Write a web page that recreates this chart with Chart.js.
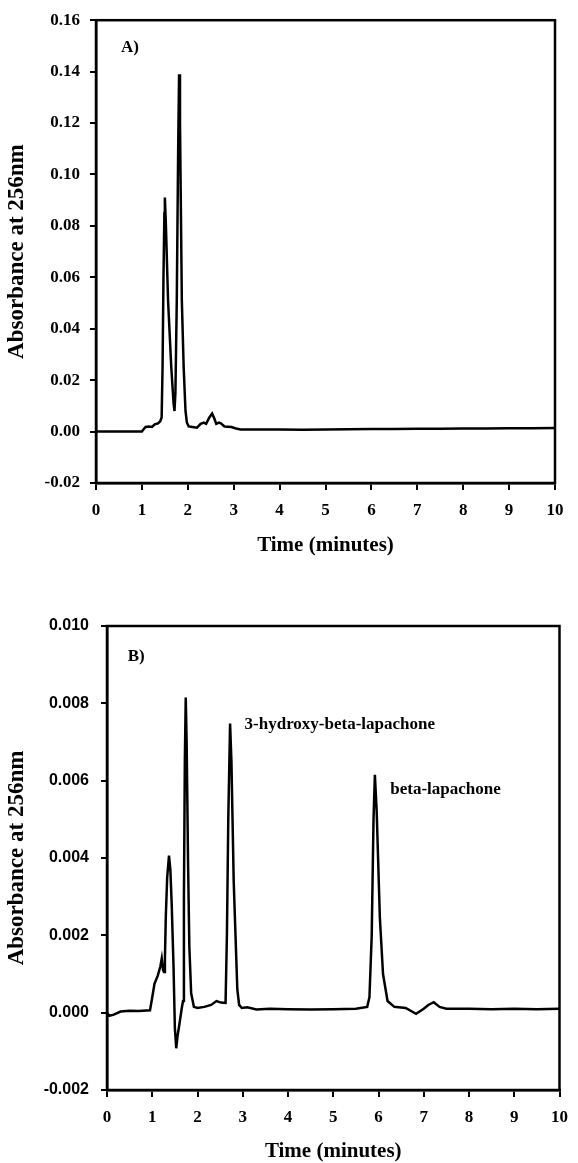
<!DOCTYPE html>
<html>
<head>
<meta charset="utf-8">
<script src="https://cdn.jsdelivr.net/npm/chart.js@4"></script>
<style>
  html, body { margin: 0; padding: 0; background: #fff; }
  .panel { position: absolute; left: 0; width: 578px; }
  #panelA { top: 0; height: 560px; }
  #panelB { top: 560px; height: 603px; }
  canvas { display: block; }
</style>
</head>
<body>
<div class="panel" id="panelA"><canvas id="chartA" width="578" height="560"></canvas></div>
<div class="panel" id="panelB"><canvas id="chartB" width="578" height="603"></canvas></div>
<script>
// PANEL A DATA (time in minutes, absorbance at 256nm)
const timeA = [0, 0.5, 1.0, 1.02, 1.08, 1.15, 1.22, 1.28, 1.35, 1.40, 1.43, 1.45, 1.47, 1.49, 1.50, 1.52,
  1.57, 1.64, 1.69, 1.71, 1.73, 1.76, 1.79, 1.81, 1.83, 1.87, 1.91, 1.95, 1.98, 2.02, 2.10, 2.20, 2.28,
  2.35, 2.40, 2.47, 2.53, 2.58, 2.62, 2.68, 2.72, 2.80, 2.95, 3.05, 3.15, 3.5, 4.0, 4.5, 5.0,
  5.5, 6.0, 6.5, 7.0, 7.5, 8.0, 8.5, 9.0, 9.5, 10.0];
const absA = [0, 0, 0, 0.0005, 0.0018, 0.0020, 0.0018, 0.0028, 0.0032, 0.0040, 0.0055, 0.025, 0.060, 0.085, 0.091, 0.082,
  0.051, 0.025, 0.011, 0.008, 0.015, 0.051, 0.110, 0.139, 0.120, 0.051, 0.025, 0.008, 0.0035, 0.0020, 0.0018, 0.0015, 0.0030,
  0.0035, 0.0030, 0.0055, 0.0070, 0.0050, 0.0030, 0.0035, 0.0032, 0.0020, 0.0018, 0.0012, 0.0008, 0.0008, 0.0008, 0.0007, 0.0008,
  0.0009, 0.0010, 0.0010, 0.0011, 0.0011, 0.0012, 0.0012, 0.0013, 0.0013, 0.0014];

// PANEL B DATA
const timeB = [0, 0.05, 0.15, 0.3, 0.5, 0.7, 0.95, 1.00, 1.05, 1.12, 1.18, 1.21, 1.24, 1.26, 1.28, 1.30,
  1.33, 1.37, 1.40, 1.43, 1.47, 1.50, 1.53, 1.56, 1.60, 1.65, 1.68, 1.70, 1.72, 1.74, 1.76, 1.79,
  1.82, 1.86, 1.92, 2.0, 2.15, 2.3, 2.42, 2.52, 2.62, 2.65, 2.68, 2.72, 2.75, 2.80, 2.84, 2.88, 2.92,
  2.98, 3.1, 3.3, 3.6, 4.0, 4.5, 5.0, 5.5, 5.75, 5.80, 5.85, 5.89, 5.92, 5.96, 6.03, 6.10, 6.20,
  6.35, 6.6, 6.83, 7.0, 7.1, 7.22, 7.35, 7.5, 8.0, 8.5, 9.0, 9.5, 10.0];
const absB = [0, -0.00008, -0.00005, 0.00003, 0.00005, 0.00004, 0.00006, 0.00040, 0.00075, 0.00095, 0.00120, 0.00140, 0.00110, 0.00105, 0.00140, 0.00250,
  0.00350, 0.00406, 0.00370, 0.00280, 0.00120, -0.00040, -0.00092, -0.00060, -0.00030, 0.00010, 0.00030, 0.00300, 0.00650, 0.00815, 0.00700, 0.00400,
  0.00170, 0.00050, 0.00015, 0.00012, 0.00015, 0.00020, 0.00030, 0.00026, 0.00025, 0.00200, 0.00500, 0.00748, 0.00650, 0.00340, 0.00200, 0.00060, 0.00020,
  0.00012, 0.00014, 0.00008, 0.00010, 0.00009, 0.00008, 0.00009, 0.00010, 0.00015, 0.00040, 0.00200, 0.00500, 0.00615, 0.00520, 0.00246, 0.00100, 0.00030,
  0.00015, 0.00012, -0.00003, 0.00010, 0.00020, 0.00027, 0.00015, 0.00010, 0.00010, 0.00009, 0.00010, 0.00009, 0.00010];

// TEXT LABELS INSIDE THE PLOTS (data coordinates)
const notesA = ['A)'];
const notesAX = [0.545];
const notesAY = [0.1494];
const notesB = ['B)', '3-hydroxy-beta-lapachone', 'beta-lapachone'];
const notesBX = [0.457, 3.04, 6.26];
const notesBY = [0.0092, 0.00744, 0.00576];

const SERIF = "'Liberation Serif', 'Times New Roman', serif";
const SANS = "'Liberation Sans', Arial, sans-serif";

// frame + text labels
const framePlugin = {
  id: 'frame',
  afterDatasetsDraw(chart, args, opts) {
    const c = chart.ctx, a = chart.chartArea;
    const xs = chart.scales.x, ys = chart.scales.y;
    c.save();
    c.strokeStyle = '#000';
    c.lineWidth = 2.5;
    c.strokeRect(a.left, a.top, a.right - a.left, a.bottom - a.top);
    c.fillStyle = '#000';
    c.font = 'bold 17px ' + SERIF;
    c.textAlign = 'left';
    c.textBaseline = 'middle';
    opts.texts.forEach((t, i) => {
      c.fillText(t, xs.getPixelForValue(opts.xs[i]), ys.getPixelForValue(opts.ys[i]));
    });
    c.restore();
  }
};

function makePoints(xs, ys) {
  return xs.map((x, i) => ({ x: x, y: ys[i] }));
}

function makeChart(id, cfg) {
  return new Chart(document.getElementById(id), {
    type: 'line',
    data: {
      datasets: [{
        data: makePoints(cfg.time, cfg.abs),
        borderColor: '#000',
        borderWidth: 2.5,
        pointRadius: 0,
        tension: 0,
        fill: false
      }]
    },
    options: {
      responsive: false,
      animation: false,
      layout: { padding: cfg.padding },
      plugins: {
        legend: { display: false },
        tooltip: { enabled: false },
        frame: { texts: cfg.texts, xs: cfg.tx, ys: cfg.ty }
      },
      scales: {
        x: {
          type: 'linear',
          min: 0,
          max: 10,
          ticks: {
            stepSize: 1,
            color: '#000',
            padding: 10,
            maxRotation: 0,
            font: { family: SERIF, size: 17, weight: 'bold' }
          },
          grid: { drawOnChartArea: false, color: '#000', lineWidth: 2, tickLength: 7 },
          border: { color: '#000', width: 2.5 },
          title: {
            display: true,
            text: 'Time (minutes)',
            color: '#000',
            font: { family: SERIF, size: 21, weight: 'bold', lineHeight: 1 },
            padding: { top: 0, bottom: cfg.xTitlePad }
          },
          afterFit(scale) { scale.height = cfg.xHeight; }
        },
        y: {
          min: cfg.yMin,
          max: cfg.yMax,
          ticks: {
            stepSize: cfg.yStep,
            color: '#000',
            padding: cfg.yPad,
            font: cfg.yFont,
            callback: v => v.toFixed(cfg.digits)
          },
          grid: { drawOnChartArea: false, color: '#000', lineWidth: 2, tickLength: 6 },
          border: { color: '#000', width: 2.5 },
          title: {
            display: true,
            text: 'Absorbance at 256nm',
            color: '#000',
            font: { family: SERIF, size: 23, weight: 'bold' },
            padding: { top: 3, bottom: 0 }
          },
          afterFit(scale) { scale.width = cfg.yWidth; }
        }
      }
    },
    plugins: [framePlugin]
  });
}

makeChart('chartA', {
  time: timeA, abs: absA,
  texts: notesA, tx: notesAX, ty: notesAY,
  padding: { top: 20, right: 23, left: 0, bottom: 0 },
  xHeight: 77, yWidth: 96, xTitlePad: 3.5,
  yMin: -0.02, yMax: 0.16, yStep: 0.02, digits: 2, yPad: 10,
  yFont: { family: SERIF, size: 17, weight: 'bold' }
});

makeChart('chartB', {
  time: timeB, abs: absB,
  texts: notesB, tx: notesBX, ty: notesBY,
  padding: { top: 66, right: 12, left: 0, bottom: 0 },
  xHeight: 73, yWidth: 107, xTitlePad: 0.5,
  yMin: -0.002, yMax: 0.010, yStep: 0.002, digits: 3, yPad: 12,
  yFont: { family: SANS, size: 16, weight: 'bold' }
});
</script>
</body>
</html>
